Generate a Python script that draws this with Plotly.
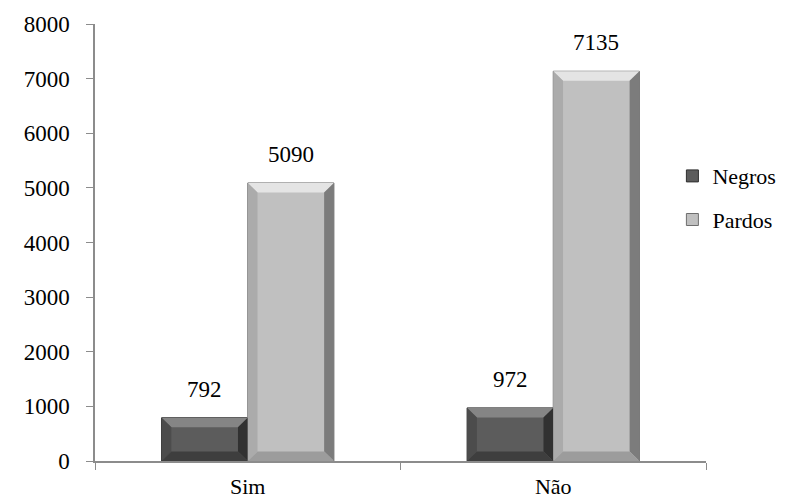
import plotly.graph_objects as go

categories = ["Sim", "Não"]
series_names = ["Negros", "Pardos"]
negros = [792, 972]
pardos = [5090, 7135]
y_ticks = [0, 1000, 2000, 3000, 4000, 5000, 6000, 7000, 8000]

colors = {"Negros": "#5c5c5c", "Pardos": "#c0c0c0"}
edge = {"Negros": "#2e2e2e", "Pardos": "#6e6e6e"}
bevel = {  # top, left, right, bottom
    "Negros": ["#858585", "#4c4c4c", "#313131", "#3e3e3e"],
    "Pardos": ["#e4e4e4", "#ababab", "#7c7c7c", "#9c9c9c"],
}
BARGAP = 0.436
BLACK = "#000000"

fig = go.Figure()
for name, vals in zip(series_names, [negros, pardos]):
    fig.add_trace(go.Bar(
        x=categories, y=vals, name=name, legendgroup=name,
        marker=dict(color=colors[name], line=dict(color=edge[name], width=1)),
    ))

bw = (1 - BARGAP) / 2
dx = 0.032
dy = 175
for si, (name, vals) in enumerate(zip(series_names, [negros, pardos])):
    off = (si - 0.5) * bw
    for ci, v in enumerate(vals):
        c = ci + off
        x0, x1 = c - bw / 2, c + bw / 2
        d = min(dy, v / 3)
        polys = [
            [(x0, v), (x1, v), (x1 - dx, v - d), (x0 + dx, v - d)],
            [(x0, v), (x0, 0), (x0 + dx, d), (x0 + dx, v - d)],
            [(x1, v), (x1, 0), (x1 - dx, d), (x1 - dx, v - d)],
            [(x0, 0), (x1, 0), (x1 - dx, d), (x0 + dx, d)],
        ]
        for poly, col in zip(polys, bevel[name]):
            path = "M " + " L ".join(f"{px},{py}" for px, py in poly) + " Z"
            fig.add_shape(type="path", path=path, xref="x", yref="y",
                          fillcolor=col, line=dict(width=0), layer="above")
        fig.add_annotation(x=c, y=v, xref="x", yref="y", text=str(v),
                           showarrow=False, yanchor="bottom", yshift=14,
                           font=dict(family="Liberation Serif", size=23, color=BLACK))

fig.update_layout(
    width=793, height=495, autosize=False,
    margin=dict(l=87, r=95, t=16, b=42, autoexpand=False),
    paper_bgcolor="white", plot_bgcolor="white",
    barmode="group", bargap=BARGAP, bargroupgap=0,
    showlegend=True,
    legend=dict(x=0.945, xanchor="left", y=0.70, yanchor="top",
                font=dict(family="Liberation Serif", size=22, color=BLACK),
                traceorder="grouped", tracegroupgap=12,
                itemwidth=30, bgcolor="rgba(0,0,0,0)"),
)
fig.update_xaxes(showline=True, linecolor="#8c8c8c", linewidth=1.5,
                 ticks="outside", tickson="boundaries", ticklen=7, tickcolor="#8c8c8c",
                 showgrid=False,
                 tickfont=dict(family="Liberation Serif", size=22, color=BLACK),
                 ticklabelstandoff=5, automargin=False)
fig.update_yaxes(range=[0, 8000], tickvals=y_ticks, showline=True, linecolor="#8c8c8c",
                 linewidth=1.5, ticks="outside", ticklen=7, tickcolor="#8c8c8c",
                 showgrid=False, zeroline=False,
                 tickfont=dict(family="Liberation Serif", size=23, color=BLACK),
                 ticklabelstandoff=12, automargin=False)

fig.write_html("out.html")
